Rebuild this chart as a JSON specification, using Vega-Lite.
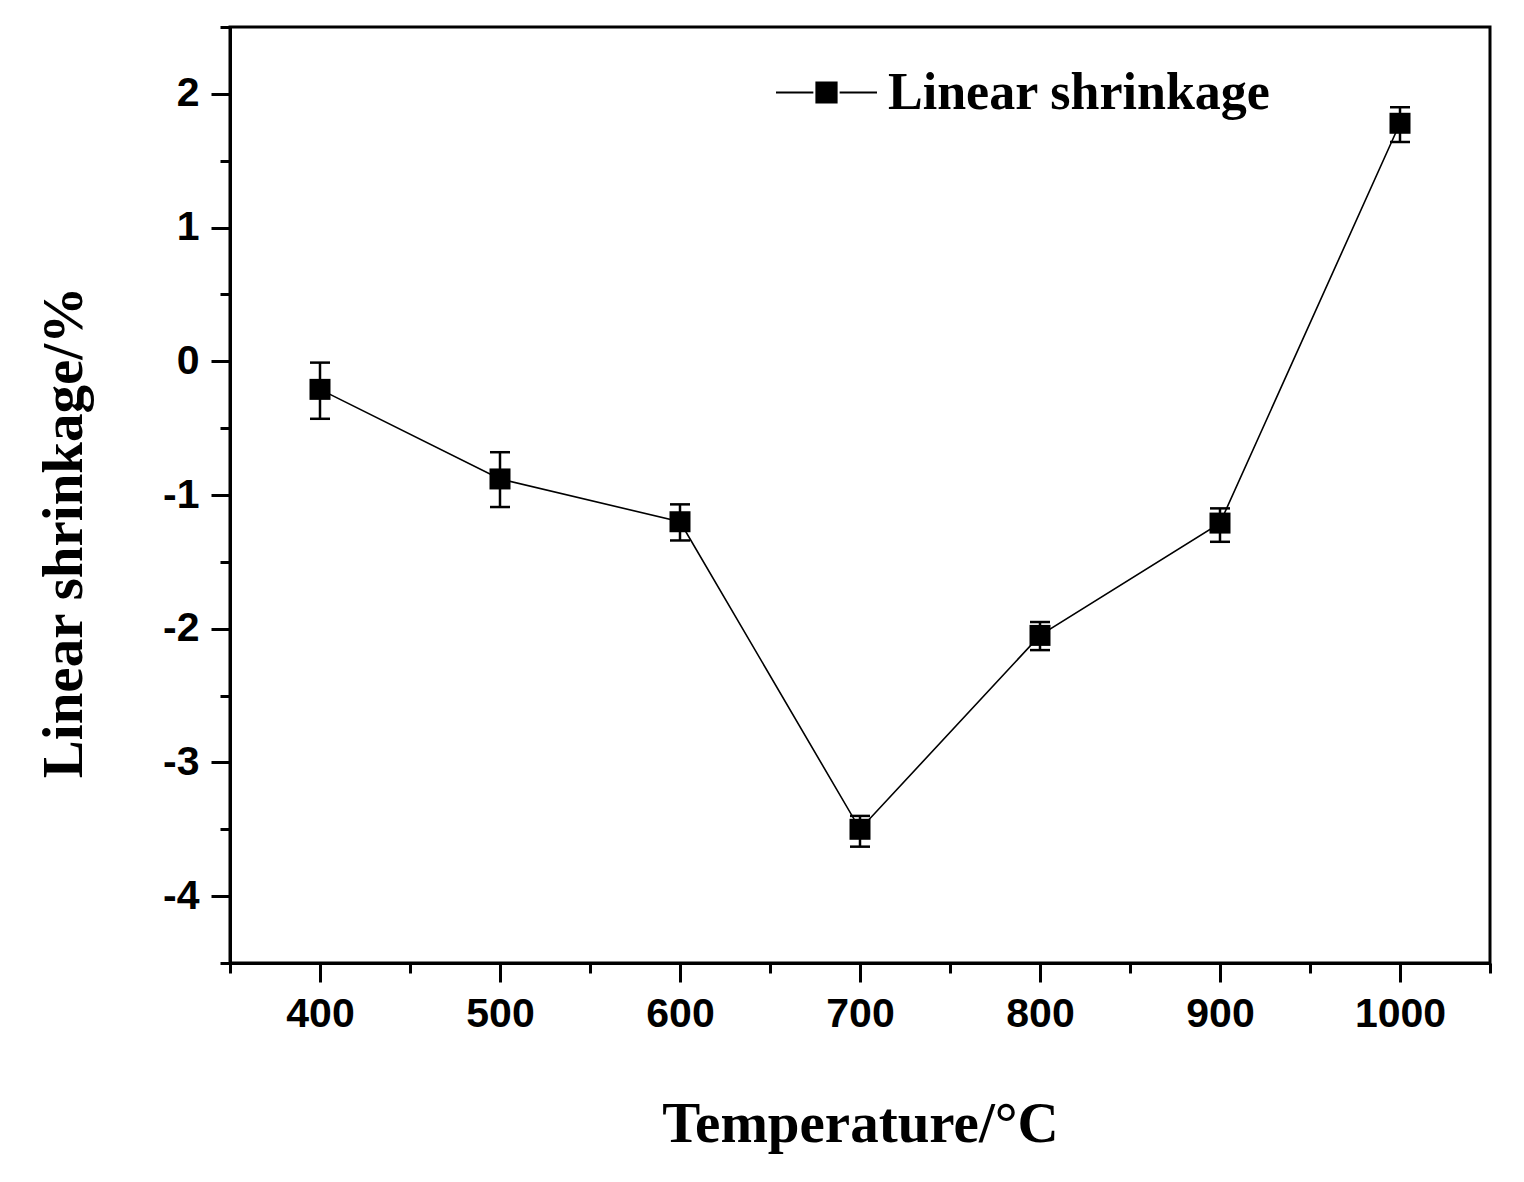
{
  "$schema": "https://vega.github.io/schema/vega-lite/v6.json",
  "description": "Linear shrinkage vs temperature",
  "autosize": {"type": "none"},
  "padding": {"left": 230, "top": 27, "right": 34, "bottom": 219},
  "width": 1260,
  "height": 936,
  "background": "white",
  "data": {
    "values": [
      {"T": 400, "y": -0.21, "lo": -0.43, "hi": -0.01},
      {"T": 500, "y": -0.88, "lo": -1.09, "hi": -0.68},
      {"T": 600, "y": -1.2, "lo": -1.34, "hi": -1.07},
      {"T": 700, "y": -3.5, "lo": -3.63, "hi": -3.4},
      {"T": 800, "y": -2.05, "lo": -2.16, "hi": -1.95},
      {"T": 900, "y": -1.21, "lo": -1.35, "hi": -1.1},
      {"T": 1000, "y": 1.78, "lo": 1.64, "hi": 1.9}
    ]
  },
  "config": {
    "view": {"stroke": "black", "strokeWidth": 3},
    "axis": {
      "grid": false,
      "domainColor": "black",
      "domainWidth": 3,
      "tickColor": "black",
      "tickWidth": 3,
      "tickSize": 19,
      "labelColor": "black",
      "labelFont": "Liberation Sans",
      "labelFontWeight": "bold",
      "labelFontSize": 41,
      "titleColor": "black",
      "titleFont": "Liberation Serif",
      "titleFontWeight": "bold",
      "titleFontSize": 57
    }
  },
  "resolve": {"axis": {"x": "independent", "y": "independent"}},
  "layer": [
    {
      "mark": {"type": "line", "color": "black", "strokeWidth": 1.6},
      "encoding": {
        "x": {
          "field": "T", "type": "quantitative",
          "scale": {"domain": [350, 1050], "nice": false, "zero": false},
          "axis": {
            "orient": "bottom",
            "values": [400, 500, 600, 700, 800, 900, 1000],
            "format": "d",
            "labelAngle": 0,
            "labelPadding": 12,
            "title": "Temperature/°C",
            "titlePadding": 62
          }
        },
        "y": {
          "field": "y", "type": "quantitative",
          "scale": {"domain": [-4.5, 2.5], "nice": false, "zero": false},
          "axis": {
            "orient": "left",
            "values": [-4, -3, -2, -1, 0, 1, 2],
            "labelPadding": 12,
            "labelExpr": "datum.value < 0 ? '-' + abs(datum.value) : '' + datum.value",
            "title": "Linear shrinkage/%",
            "titleX": -166,
            "titleY": 505,
            "titleBaseline": "middle"
          }
        }
      }
    },
    {
      "mark": {
        "type": "errorbar",
        "color": "black",
        "opacity": 1,
        "ticks": {"size": 20, "thickness": 2.5, "color": "black", "opacity": 1},
        "rule": {"strokeWidth": 2.5, "color": "black", "opacity": 1}
      },
      "encoding": {
        "x": {"field": "T", "type": "quantitative", "axis": null},
        "y": {"field": "lo", "type": "quantitative", "axis": null},
        "y2": {"field": "hi"}
      }
    },
    {
      "mark": {"type": "point", "shape": "square", "filled": true, "size": 441, "opacity": 1, "strokeWidth": 0},
      "encoding": {
        "x": {
          "field": "T", "type": "quantitative",
          "axis": {
            "orient": "bottom",
            "values": [350, 450, 550, 650, 750, 850, 950, 1050],
            "tickSize": 10,
            "labels": false,
            "domain": false,
            "title": null
          }
        },
        "y": {
          "field": "y", "type": "quantitative",
          "axis": {
            "orient": "left",
            "values": [-4.5, -3.5, -2.5, -1.5, -0.5, 0.5, 1.5, 2.5],
            "tickSize": 10,
            "labels": false,
            "domain": false,
            "title": null
          }
        },
        "color": {
          "datum": "Linear shrinkage",
          "type": "nominal",
          "scale": {"range": ["black"]},
          "legend": {
            "orient": "none",
            "legendX": 545,
            "legendY": 14,
            "title": null,
            "padding": 0,
            "symbolType": "M-1,0H-0.26M0.26,0H1M-0.2,-0.2H0.2V0.2H-0.2Z",
            "symbolSize": 10201,
            "symbolFillColor": "black",
            "symbolStrokeColor": "black",
            "symbolStrokeWidth": 2,
            "symbolOpacity": 1,
            "labelFont": "Liberation Serif",
            "labelFontWeight": "bold",
            "labelFontSize": 52,
            "labelColor": "black",
            "labelOffset": 10,
            "labelLimit": 600
          }
        }
      }
    }
  ]
}
